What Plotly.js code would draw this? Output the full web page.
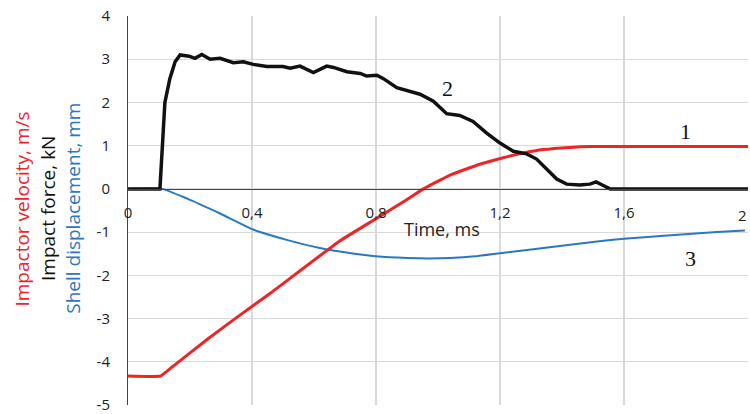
<!DOCTYPE html>
<html>
<head>
<meta charset="utf-8">
<script src="https://cdn.plot.ly/plotly-3.0.1.min.js"></script>
<style>
  html, body { margin: 0; padding: 0; background: #fff; }
  #chart { width: 750px; height: 414px; }
</style>
</head>
<body>
<div id="chart"></div>
<script>
// Impact test: impactor velocity (1), impact force (2), shell displacement (3) vs time
const timeVelocity = [0, 0.105, 0.146, 0.254, 0.361, 0.458, 0.684, 0.8, 0.899, 0.953, 1.039, 1.135, 1.21, 1.275, 1.34, 1.426, 1.49, 2.0];
const velocity     = [-4.33, -4.33, -4.10, -3.49, -2.92, -2.42, -1.20, -0.69, -0.25, 0.0, 0.32, 0.57, 0.72, 0.83, 0.91, 0.96, 0.98, 0.98];

const timeForce = [0, 0.103, 0.119, 0.135, 0.152, 0.168, 0.197, 0.216, 0.238, 0.265, 0.297, 0.34, 0.372, 0.404, 0.448, 0.5, 0.523, 0.555, 0.598, 0.641, 0.663, 0.706, 0.749, 0.77, 0.803, 0.824, 0.867, 0.9, 0.942, 0.985, 1.028, 1.07, 1.113, 1.157, 1.2, 1.243, 1.286, 1.318, 1.35, 1.383, 1.415, 1.457, 1.49, 1.51, 1.53, 1.555, 2.0];
const force     = [0, 0, 2.0, 2.55, 2.94, 3.1, 3.07, 3.02, 3.11, 3.0, 3.02, 2.92, 2.94, 2.88, 2.83, 2.83, 2.79, 2.84, 2.69, 2.84, 2.81, 2.71, 2.67, 2.61, 2.63, 2.55, 2.34, 2.28, 2.19, 2.03, 1.74, 1.70, 1.56, 1.29, 1.06, 0.87, 0.81, 0.69, 0.46, 0.23, 0.11, 0.09, 0.11, 0.16, 0.09, 0, 0];

const timeDisp = [0, 0.109, 0.189, 0.297, 0.404, 0.512, 0.619, 0.72, 0.8, 0.9, 0.97, 1.04, 1.12, 1.2, 1.36, 1.52, 1.61, 1.74, 1.9, 1.99];
const displacement = [0, 0, -0.22, -0.57, -0.94, -1.18, -1.37, -1.49, -1.56, -1.60, -1.61, -1.60, -1.56, -1.49, -1.35, -1.21, -1.15, -1.08, -1.0, -0.96];

const xTicks = [0, 0.4, 0.8, 1.2, 1.6, 2.0];
const xTickLabels = ['0', '0,4', '0,8', '1,2', '1,6', '2'];
const yTicks = [-5, -4, -3, -2, -1, 0, 1, 2, 3, 4];
const yTickLabels = ['-5', '-4', '-3', '-2', '-1', '0', '1', '2', '3', '4'];

const sans = 'Open Sans, sans-serif';
const serif = { family: 'Liberation Serif, serif', size: 22, color: '#111' };
const tickFont = { family: sans, size: 15, color: '#222' };

// The last x label sits on the right edge of the page, so it is drawn
// right-aligned as an annotation instead of as a centred tick label.
const lastX = xTicks.length - 1;
const xTickTextShown = xTickLabels.map((t, i) => (i === lastX ? '' : t));

const traces = [
  { x: timeDisp, y: displacement, mode: 'lines', line: { color: '#2a78c2', width: 2, shape: 'spline', smoothing: 0.5 }, hoverinfo: 'skip' },
  { x: timeVelocity, y: velocity, mode: 'lines', line: { color: '#ee2524', width: 3, shape: 'spline', smoothing: 0.3 }, hoverinfo: 'skip' },
  { x: timeForce, y: force, mode: 'lines', line: { color: '#111', width: 3.5 }, hoverinfo: 'skip' }
];

const layout = {
  width: 750, height: 414,
  margin: { l: 128, r: 2, t: 16, b: 9 },
  paper_bgcolor: '#fff', plot_bgcolor: '#fff',
  showlegend: false,
  xaxis: {
    range: [0, 2], tickvals: xTicks, ticktext: xTickTextShown,
    anchor: 'free', position: 5 / 9,
    showline: true, linecolor: '#444', linewidth: 1,
    showgrid: true, gridcolor: '#d9d9d9', gridwidth: 1.2,
    zeroline: false, ticks: '', ticklabelstandoff: 10,
    ticklabeloverflow: 'allow',
    tickfont: tickFont
  },
  yaxis: {
    range: [-5, 4], tickvals: yTicks, ticktext: yTickLabels,
    showline: true, linecolor: '#444', linewidth: 1,
    showgrid: true, gridcolor: '#d9d9d9', gridwidth: 1.2,
    zeroline: false, ticks: '', ticklabelstandoff: 14,
    ticklabeloverflow: 'allow',
    tickfont: tickFont
  },
  annotations: [
    { xref: 'paper', yref: 'paper', x: -0.171, y: 0.505, xanchor: 'center', yanchor: 'middle', textangle: -90, showarrow: false,
      text: 'Impactor velocity, m/s', font: { family: sans, size: 19, color: '#ee2524' } },
    { xref: 'paper', yref: 'paper', x: -0.13, y: 0.505, xanchor: 'center', yanchor: 'middle', textangle: -90, showarrow: false,
      text: 'Impact force, kN', font: { family: sans, size: 19, color: '#111' } },
    { xref: 'paper', yref: 'paper', x: -0.09, y: 0.505, xanchor: 'center', yanchor: 'middle', textangle: -90, showarrow: false,
      text: 'Shell displacement, mm', font: { family: sans, size: 19, color: '#2a78c2' } },
    { x: xTicks[lastX], y: 0, yanchor: 'top', xanchor: 'right', yshift: -14, xshift: 1, showarrow: false,
      text: xTickLabels[lastX], font: tickFont },
    { x: 1.013, y: -0.92, showarrow: false, text: 'Time, ms', font: { family: sans, size: 18, color: '#222' } },
    { x: 1.03, y: 2.32, showarrow: false, text: '2', font: serif },
    { x: 1.797, y: 1.33, showarrow: false, text: '1', font: serif },
    { x: 1.816, y: -1.6, showarrow: false, text: '3', font: serif }
  ]
};

Plotly.newPlot('chart', traces, layout, { staticPlot: true, displayModeBar: false });
</script>
</body>
</html>
